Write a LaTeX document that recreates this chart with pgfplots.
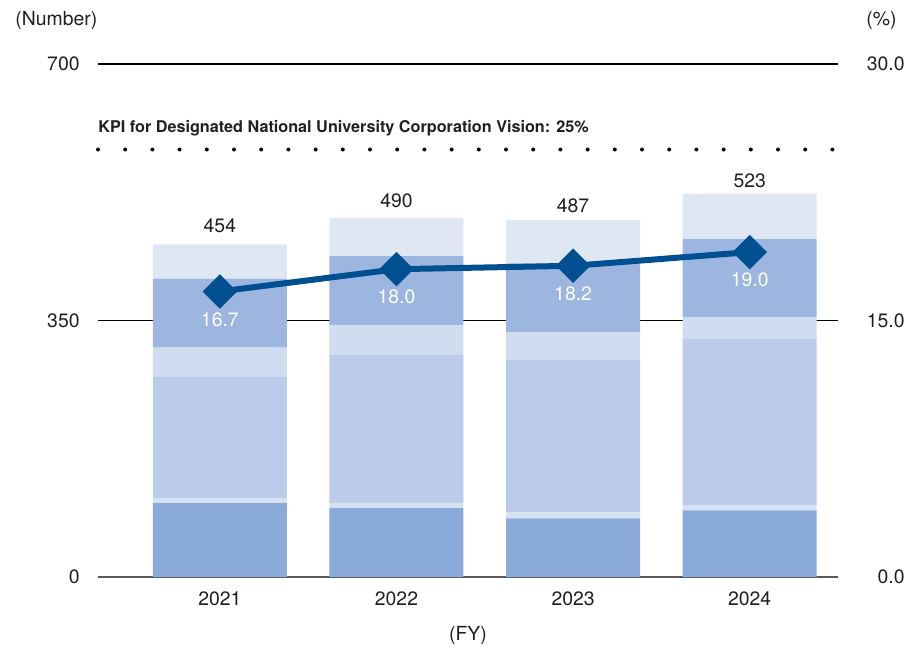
\documentclass[border=0pt]{standalone}
\usepackage{pgfplots}
\pgfplotsset{compat=1.18}
\usepackage{pgfplotstable}
\usepackage{fontspec}
\setmainfont{TeX Gyre Heros}

\definecolor{segA}{RGB}{138,171,217}
\definecolor{segB}{RGB}{214,225,241}
\definecolor{segC}{RGB}{186,204,233}
\definecolor{segD}{RGB}{208,221,240}
\definecolor{segE}{RGB}{157,182,224}
\definecolor{segF}{RGB}{223,230,244}
\definecolor{rateblue}{RGB}{0,80,145}
\definecolor{txt}{RGB}{35,31,32}

% stacked segments, bottom to top, and the total per year
\pgfplotstableread{
x a b c d e f total
0 101 7 165 40 94 47 454
1 94 7 202 41 94 52 490
2 80 9 207 38 94 59 487
3 91 7 227 30 106 62 523
}\bars

% ratio (%), right axis
\pgfplotstableread{
x pct
0 16.7
1 18.0
2 18.2
3 19.0
}\rate

\pgfplotsset{
  base/.style={
    scale only axis, width=370pt, height=256.5pt,
    xmin=-0.69, xmax=3.5,
    major tick length=0pt,
    /pgf/number format/assume math mode=true,
    tick label style={text=txt},
  },
}

\begin{document}
\fontsize{9.7}{11.6}\selectfont
\begin{tikzpicture}
\useasboundingbox (-49pt,-36pt) rectangle (405.5pt,288.5pt);

\begin{axis}[
  base, name=ax,
  ymin=0, ymax=700,
  ybar stacked, bar width=67pt,
  axis lines*=left,
  y axis line style={draw=none},
  x axis line style={draw=black!65, line width=1pt, -},
  xtick={0,1,2,3}, xticklabels={2021,2022,2023,2024},
  xticklabel style={yshift=-4pt},
  ytick={0,350,700},
  yticklabel style={inner sep=0pt, xshift=-9pt},
  ymajorgrids, grid style={black, line width=0.6pt},
]
\addplot[fill=segA, draw=none] table[x=x, y=a] {\bars};
\addplot[fill=segB, draw=none] table[x=x, y=b] {\bars};
\addplot[fill=segC, draw=none] table[x=x, y=c] {\bars};
\addplot[fill=segD, draw=none] table[x=x, y=d] {\bars};
\addplot[fill=segE, draw=none] table[x=x, y=e] {\bars};
\addplot[fill=segF, draw=none, point meta=explicit,
  nodes near coords,
  every node near coord/.append style={text=txt, anchor=base, inner sep=0pt, yshift=14.5pt}]
  table[x=x, y=f, meta=total] {\bars};
\end{axis}

\begin{axis}[
  base,
  ymin=0, ymax=30,
  axis x line=none, axis y line*=right,
  y axis line style={draw=none},
  ytick={0,15,30},
  yticklabel style={anchor=east, inner sep=0pt, xshift=33.5pt,
    /pgf/number format/.cd, fixed, fixed zerofill, precision=1},
  clip=false,
]
% KPI target 25%
\addplot[black, line width=2pt, line cap=round, dash pattern=on 0pt off 13.6pt]
  coordinates {(-0.69,25) (3.5,25)};
\addplot[rateblue, line width=3pt, mark=square*, mark size=4.6pt,
  mark options={rotate=45},
  nodes near coords={\pgfmathprintnumber[fixed,fixed zerofill,precision=1]{\pgfplotspointmeta}},
  every node near coord/.append style={white, anchor=center, yshift=-14pt}]
  table[x=x, y=pct] {\rate};
\end{axis}

\node[anchor=west, inner sep=0pt, text=txt] at (-41.5pt,278.5pt) {(Number)};
\node[anchor=west, inner sep=0pt, text=txt] at (384pt,278.5pt) {(\%)};
\node[anchor=west, inner sep=0pt, text=txt, font=\fontsize{8.1}{10}\selectfont\bfseries]
  at (0pt,224.5pt) {KPI for Designated National University Corporation Vision: 25\%};
\node[text=txt] at (185pt,-29pt) {(FY)};
\end{tikzpicture}
\end{document}
